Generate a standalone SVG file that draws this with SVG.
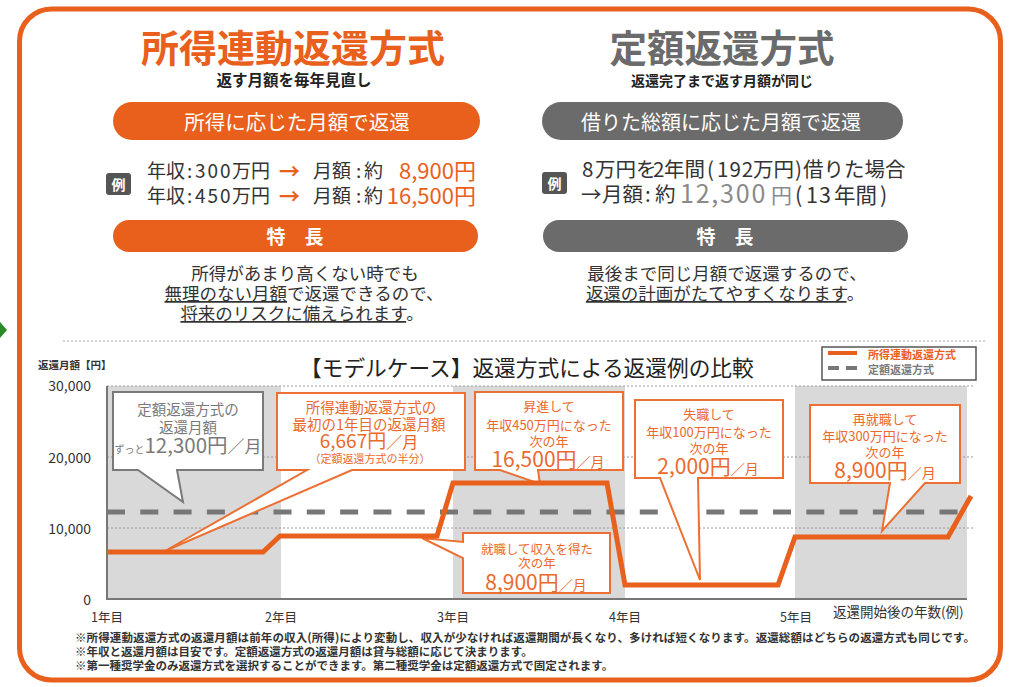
<svg xmlns="http://www.w3.org/2000/svg" width="1010" height="687" viewBox="0 0 1010 687">
<style>
text { font-family: 'Noto Sans CJK JP', 'Noto Sans CJK SC', sans-serif; }
.or { fill: #E8601C; }
.oc { fill: #EA6A2C; }
.gy { fill: #6b6b6b; }
.gc { fill: #7a7a7a; }
.dk { fill: #333333; }
.bk { fill: #222222; }
.w { fill: #ffffff; }
.b { font-weight: 700; }
.pillo { fill: #E8601C; }
.pillg { fill: #6b6b6b; }
.co { fill: #ffffff; stroke: #EC7033; stroke-width: 2; }
.cg { fill: #ffffff; stroke: #7a7a7a; stroke-width: 2; }
.grid { stroke: #9a9a9a; stroke-width: 1; stroke-dasharray: 2 2; fill: none; }
.band { fill: #d9d9d9; }
.u { text-decoration: underline; }
</style>

<!-- outer frame -->
<rect x="19.5" y="9" width="981" height="671" rx="32" fill="#ffffff" stroke="#E8601C" stroke-width="5"/>
<polygon points="0,322 7,330 0,338" fill="#2a8a2a"/>

<!-- left panel -->
<g id="panel-income">
  <text x="293" y="62" text-anchor="middle" class="or b" font-size="38">所得連動返還方式</text>
  <text x="294" y="86" text-anchor="middle" class="bk b" font-size="15.5">返す月額を毎年見直し</text>
  <rect x="113" y="102" width="367" height="38" rx="19" class="pillo"/>
  <text x="297" y="130" text-anchor="middle" class="w" font-size="20.5">所得に応じた月額で返還</text>
  <rect x="106" y="173" width="25" height="22" rx="3" fill="#555555"/>
  <text x="118.5" y="189.5" text-anchor="middle" class="w b" font-size="14">例</text>
  <text y="178" class="dk" font-size="19"><tspan x="147">年収</tspan><tspan x="187">:</tspan><tspan x="195" letter-spacing="2">300</tspan><tspan x="232">万円</tspan></text>
  <text x="279" y="179" class="or b" font-size="21">→</text>
  <text y="178" class="dk" font-size="19"><tspan x="313">月額</tspan><tspan x="356">:</tspan><tspan x="364">約</tspan></text>
  <text x="476" y="179" text-anchor="end" class="or" font-size="22">8,900円</text>
  <text y="203" class="dk" font-size="19"><tspan x="147">年収</tspan><tspan x="187">:</tspan><tspan x="195" letter-spacing="2">450</tspan><tspan x="232">万円</tspan></text>
  <text x="279" y="204" class="or b" font-size="21">→</text>
  <text y="203" class="dk" font-size="19"><tspan x="313">月額</tspan><tspan x="356">:</tspan><tspan x="364">約</tspan></text>
  <text x="476" y="204" text-anchor="end" class="or" font-size="22">16,500円</text>
  <rect x="113" y="220" width="365" height="32" rx="16" class="pillo"/>
  <text x="295" y="244" text-anchor="middle" class="w b" font-size="19">特　長</text>
  <text x="305" y="280" text-anchor="middle" class="dk" font-size="17.5">所得があまり高くない時でも</text>
  <text x="304" y="300" text-anchor="middle" class="dk" font-size="17.5"><tspan class="u">無理のない月額</tspan>で返還できるので、</text>
  <text x="302" y="320" text-anchor="middle" class="dk" font-size="17.5"><tspan class="u">将来のリスクに備えられます</tspan>。</text>
</g>

<!-- right panel -->
<g id="panel-fixed">
  <text x="722" y="62" text-anchor="middle" class="gy b" font-size="37.5">定額返還方式</text>
  <text x="722" y="86" text-anchor="middle" class="bk b" font-size="14">返還完了まで返す月額が同じ</text>
  <rect x="542" y="102" width="361" height="38" rx="19" class="pillg"/>
  <text x="721" y="130" text-anchor="middle" class="w" font-size="20">借りた総額に応じた月額で返還</text>
  <rect x="542" y="172" width="25" height="22" rx="3" fill="#555555"/>
  <text x="554.5" y="188.5" text-anchor="middle" class="w b" font-size="14">例</text>
  <text y="177" class="dk" font-size="20.5"><tspan x="582">8</tspan><tspan x="595">万円を</tspan><tspan x="653">2</tspan><tspan x="664">年間</tspan><tspan x="707">(</tspan><tspan x="717" letter-spacing="1">192</tspan><tspan x="753">万円</tspan><tspan x="795">)</tspan><tspan x="803">借りた場合</tspan></text>
  <text y="202" class="dk" font-size="20.5"><tspan x="581">→</tspan><tspan x="602">月額</tspan><tspan x="645">:</tspan><tspan x="655">約</tspan></text>
  <text y="203" fill="#8a8a8a"><tspan x="680" font-size="25" letter-spacing="1.8">12,300</tspan><tspan x="771" font-size="21">円</tspan></text>
  <text y="203" class="dk" font-size="21.5"><tspan x="795">(</tspan><tspan x="806" letter-spacing="1">13</tspan><tspan x="834">年間</tspan><tspan x="880">)</tspan></text>
  <rect x="543" y="220" width="365" height="32" rx="16" class="pillg"/>
  <text x="725" y="244" text-anchor="middle" class="w b" font-size="19">特　長</text>
  <text x="727" y="280" text-anchor="middle" class="dk" font-size="17.5">最後まで同じ月額で返還するので、</text>
  <text x="725" y="300" text-anchor="middle" class="dk" font-size="17.5"><tspan class="u">返還の計画がたてやすくなります</tspan>。</text>
</g>

<line x1="63" y1="341" x2="985" y2="341" stroke="#aaaaaa" stroke-width="1.2" stroke-dasharray="2 2"/>

<!-- chart -->
<g id="chart">
  <text x="38" y="369" class="dk b" font-size="10.5">返還月額【円】</text>
  <text x="300" y="376" class="bk" font-size="21.7">【モデルケース】返還方式による返還例の比較</text>
  <rect x="107" y="386" width="174" height="213" class="band"/>
  <rect x="453" y="386" width="172" height="213" class="band"/>
  <rect x="795" y="386" width="172" height="213" class="band"/>
  <line x1="107" y1="386" x2="975" y2="386" class="grid"/>
  <line x1="107" y1="457" x2="975" y2="457" class="grid"/>
  <line x1="107" y1="528" x2="975" y2="528" class="grid"/>
  <path d="M107,386 V599 H967" fill="none" stroke="#777777" stroke-width="2"/>
  <g class="dk" font-size="14" text-anchor="end">
    <text x="91" y="391">30,000</text>
    <text x="91" y="463">20,000</text>
    <text x="91" y="534">10,000</text>
    <text x="91" y="605">0</text>
  </g>
  <g class="dk" font-size="12.5" text-anchor="middle">
    <text x="107" y="622">1年目</text>
    <text x="281" y="622">2年目</text>
    <text x="453" y="622">3年目</text>
    <text x="625" y="622">4年目</text>
    <text x="796" y="622">5年目</text>
  </g>
  <text x="833" y="617" class="dk" font-size="13.5">返還開始後の年数(例)</text>
</g>

<g id="legend">
  <rect x="822" y="347" width="154" height="33" fill="#ffffff" stroke="#555555" stroke-width="1.5"/>
  <line x1="828" y1="353" x2="857" y2="353" stroke="#E8601C" stroke-width="4"/>
  <text x="868" y="359" class="or b" font-size="11">所得連動返還方式</text>
  <line x1="828" y1="368" x2="857" y2="368" stroke="#777777" stroke-width="4" stroke-dasharray="11 7"/>
  <text x="868" y="374" class="gc b" font-size="11">定額返還方式</text>
</g>

<g id="connectors">
  <line x1="107" y1="512" x2="967" y2="512" stroke="#777777" stroke-width="5" stroke-dasharray="18 15.3"/>
</g>

<g id="callout-fixed">
  <path d="M113,392 H263 V470 H177 L183,502 L138,470 H113 Z" class="cg"/>
  <text x="188" y="415" text-anchor="middle" class="gc" font-size="14.5">定額返還方式の</text>
  <text x="188" y="433" text-anchor="middle" class="gc" font-size="14.5">返還月額</text>
  <text x="188" y="453" text-anchor="middle" class="gc"><tspan font-size="10">ずっと</tspan><tspan font-size="20.5">12,300円</tspan><tspan font-size="17">／月</tspan></text>
</g>

<g id="callout-first">
  <path d="M277,393 H465 V470 H352 L165,551 L307,470 H277 Z" class="co"/>
  <text x="371" y="413" text-anchor="middle" class="oc" font-size="14.5">所得連動返還方式の</text>
  <text x="369" y="430" text-anchor="middle" class="oc" font-size="14.5">最初の1年目の返還月額</text>
  <text x="369" y="448" text-anchor="middle" class="oc"><tspan font-size="19">6,667円</tspan><tspan font-size="16">／月</tspan></text>
  <text x="370" y="463" text-anchor="middle" class="oc" font-size="11">（定額返還方式の半分）</text>
</g>

<g id="callout-promo">
  <path d="M475,392 H623 V470 H538 L540,484 L500,470 H475 Z" class="co"/>
  <text x="549" y="411" text-anchor="middle" class="oc" font-size="13">昇進して</text>
  <text x="549" y="430" text-anchor="middle" class="oc" font-size="13">年収450万円になった</text>
  <text x="549" y="446" text-anchor="middle" class="oc" font-size="13">次の年</text>
  <text x="548" y="467" text-anchor="middle" class="oc"><tspan font-size="21">16,500円</tspan><tspan font-size="14">／月</tspan></text>
</g>

<g id="callout-lost">
  <path d="M635,400 H783 V478 H698 L700,580 L660,478 H635 Z" class="co"/>
  <text x="709" y="419" text-anchor="middle" class="oc" font-size="13">失職して</text>
  <text x="709" y="437" text-anchor="middle" class="oc" font-size="13">年収100万円になった</text>
  <text x="709" y="453" text-anchor="middle" class="oc" font-size="13">次の年</text>
  <text x="708" y="474" text-anchor="middle" class="oc"><tspan font-size="21">2,000円</tspan><tspan font-size="14">／月</tspan></text>
</g>

<g id="callout-rehired">
  <path d="M810,405 H960 V483 H925 L882,531 L890,483 H810 Z" class="co"/>
  <text x="885" y="424" text-anchor="middle" class="oc" font-size="13">再就職して</text>
  <text x="885" y="441" text-anchor="middle" class="oc" font-size="13">年収300万円になった</text>
  <text x="885" y="457" text-anchor="middle" class="oc" font-size="13">次の年</text>
  <text x="885" y="478" text-anchor="middle" class="oc"><tspan font-size="21">8,900円</tspan><tspan font-size="14">／月</tspan></text>
</g>

<g id="callout-hired">
  <path d="M463,533 H610 V593 H463 V558 L422,538 L463,542 Z" class="co"/>
  <text x="537" y="554" text-anchor="middle" class="oc" font-size="12.5">就職して収入を得た</text>
  <text x="537" y="568" text-anchor="middle" class="oc" font-size="12.5">次の年</text>
  <text x="536" y="590" text-anchor="middle" class="oc"><tspan font-size="21">8,900円</tspan><tspan font-size="14">／月</tspan></text>
</g>

<g id="series-income">
  <polyline points="107,552 263,552 280,536 437,536 453,483 607,483 625,585 778,585 795,537 948,537 967,503 971,496" fill="none" stroke="#E8601C" stroke-width="5" stroke-linejoin="miter"/>
</g>

<g id="footnotes" class="dk b" font-size="11.5">
  <text x="75" y="642" textLength="900">※所得連動返還方式の返還月額は前年の収入(所得)により変動し、収入が少なければ返還期間が長くなり、多ければ短くなります。返還総額はどちらの返還方式も同じです。</text>
  <text x="75" y="656">※年収と返還月額は目安です。定額返還方式の返還月額は貸与総額に応じて決まります。</text>
  <text x="75" y="670">※第一種奨学金のみ返還方式を選択することができます。第二種奨学金は定額返還方式で固定されます。</text>
</g>
</svg>
